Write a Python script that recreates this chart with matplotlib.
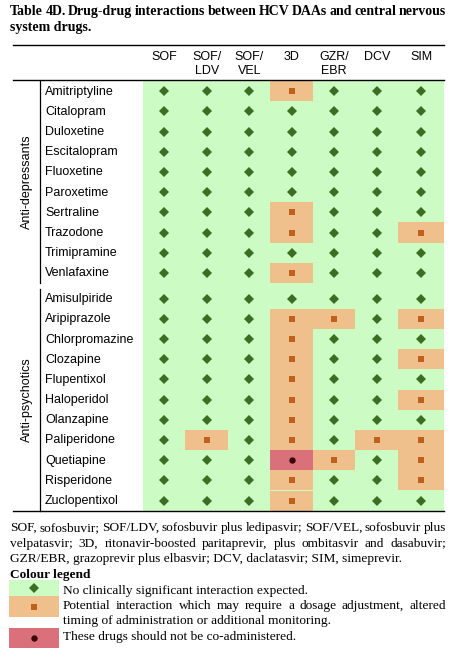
import numpy as np
import matplotlib
matplotlib.use("Agg")
import matplotlib.pyplot as plt
from matplotlib.patches import Rectangle

# Datos de la tabla
columnas = ["SOF", "SOF/\nLDV", "SOF/\nVEL", "3D", "GZR/\nEBR", "DCV", "SIM"]
grupos = ["Anti-depressants", "Anti-psychotics"]
antidepresivos = ["Amitriptyline", "Citalopram", "Duloxetine", "Escitalopram",
                  "Fluoxetine", "Paroxetime", "Sertraline", "Trazodone",
                  "Trimipramine", "Venlafaxine"]
antipsicoticos = ["Amisulpiride", "Aripiprazole", "Chlorpromazine", "Clozapine",
                  "Flupentixol", "Haloperidol", "Olanzapine", "Paliperidone",
                  "Quetiapine", "Risperidone", "Zuclopentixol"]
# 0 = sin interaccion, 1 = interaccion potencial, 2 = no co-administrar
nivel_ad = [[0, 0, 0, 1, 0, 0, 0],
            [0, 0, 0, 0, 0, 0, 0],
            [0, 0, 0, 0, 0, 0, 0],
            [0, 0, 0, 0, 0, 0, 0],
            [0, 0, 0, 0, 0, 0, 0],
            [0, 0, 0, 0, 0, 0, 0],
            [0, 0, 0, 1, 0, 0, 0],
            [0, 0, 0, 1, 0, 0, 1],
            [0, 0, 0, 0, 0, 0, 0],
            [0, 0, 0, 1, 0, 0, 0]]
nivel_ap = [[0, 0, 0, 0, 0, 0, 0],
            [0, 0, 0, 1, 1, 0, 1],
            [0, 0, 0, 1, 0, 0, 0],
            [0, 0, 0, 1, 0, 0, 1],
            [0, 0, 0, 1, 0, 0, 0],
            [0, 0, 0, 1, 0, 0, 1],
            [0, 0, 0, 1, 0, 0, 0],
            [0, 1, 0, 1, 0, 1, 1],
            [0, 0, 0, 2, 1, 0, 1],
            [0, 0, 0, 1, 0, 0, 1],
            [0, 0, 0, 1, 0, 0, 0]]

titulo = ["Table 4D. Drug-drug interactions between HCV DAAs and central nervous",
          "system drugs."]
nota = ["SOF, sofosbuvir; SOF/LDV, sofosbuvir plus ledipasvir; SOF/VEL, sofosbuvir plus",
        "velpatasvir; 3D, ritonavir-boosted paritaprevir, plus ombitasvir and dasabuvir;",
        "GZR/EBR, grazoprevir plus elbasvir; DCV, daclatasvir; SIM, simeprevir."]
leyenda = [["No clinically significant interaction expected."],
           ["Potential interaction which may require a dosage adjustment, altered",
            "timing of administration or additional monitoring."],
           ["These drugs should not be co-administered."]]

# Estilos
fondo = ["#ccfcc4", "#f0c08c", "#d9707a"]
marca = ["D", "s", "o"]
color_marca = ["#3b6e22", "#c0601e", "#3a0808"]
tam_marca = [5.0, 5.0, 4.6]
sans = "Liberation Sans"
serif = "Liberation Serif"

W, H = 464, 657
fig = plt.figure(figsize=(W / 100, H / 100), dpi=100)
ax = fig.add_axes([0, 0, 1, 1])
ax.set_xlim(0, W)
ax.set_ylim(H, 0)
ax.axis("off")
renderer = fig.canvas.get_renderer()


def justificado(lineas, y0, dy, x0, x1, ultima_libre=True, **kw):
    for i, linea in enumerate(lineas):
        y = y0 + i * dy
        palabras = linea.split()
        if ultima_libre and i == len(lineas) - 1:
            ax.text(x0, y, linea, va="baseline", **kw)
            continue
        anchos = []
        for p in palabras:
            t = ax.text(0, 0, p, **kw)
            anchos.append(t.get_window_extent(renderer).width)
            t.remove()
        hueco = (x1 - x0 - sum(anchos)) / (len(palabras) - 1)
        x = x0
        for p, a in zip(palabras, anchos):
            ax.text(x, y, p, va="baseline", **kw)
            x += a + hueco


# Titulo
justificado(titulo, 15, 15.5, 10, 446, family=serif, weight="bold", fontsize=10)

# Geometria de la tabla
x_tab0, x_tab1 = 13, 444
x_col0, ancho_col = 143, 42.5
bordes = [x_col0 + ancho_col * i for i in range(len(columnas))] + [x_tab1]
alto_fila = 20.2
tops = [81, 288.5]

# Encabezado
ax.plot([x_tab0, x_tab1], [45, 45], color="black", lw=1.0)
ax.plot([x_tab0, x_tab1], [80, 80], color="black", lw=1.0)
for j, col in enumerate(columnas):
    xc = (bordes[j] + bordes[j + 1]) / 2
    for k, parte in enumerate(col.split("\n")):
        ax.text(xc, 60 + 14 * k, parte, ha="center", va="baseline",
                family=sans, fontsize=9)

# Fondo verde
fin = tops[1] + alto_fila * len(antipsicoticos)
ax.add_patch(Rectangle((bordes[0], tops[0]), bordes[-1] - bordes[0],
                       fin - tops[0], color=fondo[0], lw=0))

for g, (nombres, niveles) in enumerate([(antidepresivos, nivel_ad),
                                        (antipsicoticos, nivel_ap)]):
    top = tops[g]
    bottom = top + alto_fila * len(nombres)
    ax.plot([40, 40], [top, bottom], color="black", lw=0.9)
    ax.text(27, (top + bottom) / 2, grupos[g], rotation=90, ha="center",
            va="center", family=sans, fontsize=9)
    for i, nombre in enumerate(nombres):
        yc = top + alto_fila * (i + 0.5)
        ax.text(45, yc + 0.5, nombre, ha="left", va="center", family=sans,
                fontsize=9)
        for j, v in enumerate(niveles[i]):
            xc = (bordes[j] + bordes[j + 1]) / 2
            if v > 0:
                ax.add_patch(Rectangle((bordes[j], top + alto_fila * i),
                                       bordes[j + 1] - bordes[j], alto_fila,
                                       color=fondo[v], lw=0))
            ax.plot(xc, yc, marker=marca[v], color=color_marca[v],
                    ms=tam_marca[v], mew=0, ls="none")

ax.plot([x_tab0, x_tab1], [fin, fin], color="black", lw=1.0)

# Nota al pie
justificado(nota, 531, 15.6, 10, 446, family=serif, fontsize=9.6)
ax.text(10, 578, "Colour legend", va="baseline", family=serif,
        weight="bold", fontsize=9.6)

# Leyenda de colores
cajas = [(580, 596), (596, 617), (628, 648)]
bases = [594, 609, 640]
for k in range(3):
    y0, y1 = cajas[k]
    ax.add_patch(Rectangle((9, y0), 50, y1 - y0, color=fondo[k], lw=0))
    ax.plot(34, (y0 + y1) / 2, marker=marca[k], color=color_marca[k],
            ms=tam_marca[k], mew=0, ls="none")
    justificado(leyenda[k], bases[k], 15, 63, 446, family=serif, fontsize=9.6)

fig.savefig("out.png", dpi=100)
